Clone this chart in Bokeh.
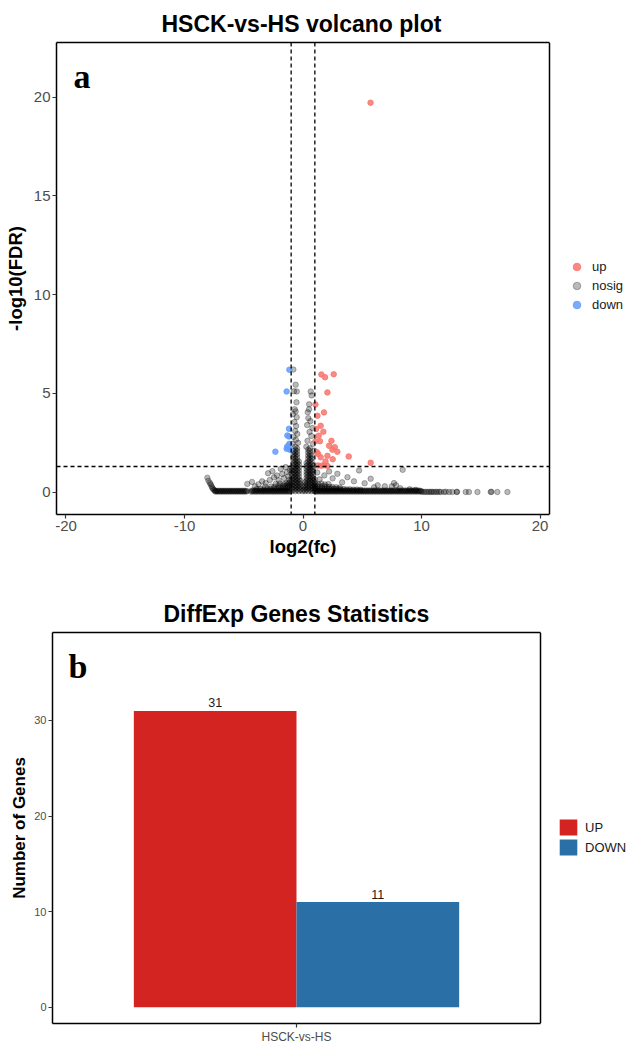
from bokeh.plotting import figure
from bokeh.models import (ColumnDataSource, Span, Label, Legend, LegendItem, Title,
                          FixedTicker, Range1d, LinearAxis)
from bokeh.transform import dodge
from bokeh.embed import file_html
from bokeh.resources import INLINE

# ---------------- volcano data (log2 fold change, -log10 FDR) ----------------
up_pts = [(5.70, 19.72), (1.55, 5.96), (1.86, 5.82), (2.59, 5.97), (2.06, 5.05),
          (1.05, 4.44), (1.77, 4.04), (1.22, 3.87), (1.49, 3.36), (1.72, 3.06),
          (1.32, 2.86), (2.40, 2.60), (1.05, 2.58), (1.43, 2.58), (2.68, 2.28),
          (2.48, 2.15), (2.90, 2.05), (1.27, 1.94), (2.06, 1.84), (2.51, 1.67),
          (3.86, 1.81), (1.49, 1.77), (5.71, 1.49), (1.27, 1.35), (1.55, 1.34),
          (1.77, 1.36), (2.06, 1.33), (1.16, 2.03), (1.10, 3.20), (2.20, 2.35),
          (1.90, 1.55)]
down_pts = [(-1.15, 6.20), (-1.38, 5.10), (-1.18, 3.21), (-1.32, 2.87), (-1.18, 2.82),
            (-1.15, 2.45), (-1.38, 2.20), (-1.23, 2.23), (-2.33, 2.05), (-1.32, 2.32),
            (-1.10, 2.15)]

nosig_left_tail = [(-8.07, 0.73), (-7.98, 0.58), (-7.86, 0.47), (-7.79, 0.40), (-7.72, 0.31),
                   (-7.66, 0.23), (-7.60, 0.17), (-7.52, 0.12), (-7.45, 0.08), (-7.40, 0.05)]
nosig_left_band = [(-7.35, 0.03), (-7.28, 0.07), (-7.20, 0.03), (-7.13, 0.07), (-7.05, 0.03), (-6.98, 0.07),
                   (-6.90, 0.03), (-6.83, 0.07), (-6.75, 0.03), (-6.68, 0.07), (-6.60, 0.03), (-6.53, 0.07),
                   (-6.45, 0.03), (-6.38, 0.07), (-6.30, 0.03), (-6.23, 0.07), (-6.15, 0.03), (-6.08, 0.07),
                   (-6.00, 0.03), (-5.93, 0.07), (-5.85, 0.03), (-5.78, 0.07), (-5.70, 0.03), (-5.63, 0.07),
                   (-5.55, 0.03), (-5.48, 0.07), (-5.40, 0.03), (-5.33, 0.07), (-5.25, 0.03), (-5.18, 0.07),
                   (-5.10, 0.03), (-5.03, 0.07), (-4.95, 0.03), (-4.88, 0.07), (-4.80, 0.03), (-4.73, 0.06)]
nosig_mid_left = [(-4.40, 0.03), (-4.33, 0.08), (-4.25, 0.03), (-4.18, 0.08), (-4.10, 0.03), (-4.03, 0.08),
                  (-3.95, 0.03), (-3.88, 0.08), (-3.80, 0.03), (-3.73, 0.08), (-3.65, 0.03), (-3.58, 0.08),
                  (-3.50, 0.03), (-3.43, 0.08), (-3.35, 0.03), (-3.28, 0.08), (-3.20, 0.03), (-3.13, 0.08),
                  (-3.05, 0.03), (-2.98, 0.08), (-2.90, 0.03), (-2.83, 0.08), (-2.75, 0.03), (-2.68, 0.08),
                  (-2.60, 0.03), (-2.53, 0.08), (-2.45, 0.03), (-2.38, 0.08), (-2.30, 0.03), (-2.23, 0.08),
                  (-2.15, 0.03), (-2.08, 0.08), (-2.00, 0.03), (-1.93, 0.08), (-1.85, 0.03), (-1.78, 0.08),
                  (-1.70, 0.03), (-1.63, 0.08), (-1.55, 0.03), (-1.48, 0.08), (-1.40, 0.03), (-1.33, 0.08),
                  (-1.25, 0.03), (-1.18, 0.08), (-1.10, 0.03),
                  (-3.90, 0.16), (-3.60, 0.17), (-3.30, 0.15), (-3.00, 0.18), (-2.75, 0.16), (-2.50, 0.19),
                  (-2.25, 0.17), (-2.05, 0.20), (-1.85, 0.18), (-1.65, 0.21), (-1.45, 0.19), (-1.30, 0.22),
                  (-1.15, 0.20), (-3.20, 0.28), (-2.70, 0.29), (-2.40, 0.27), (-2.10, 0.31), (-1.90, 0.29),
                  (-1.70, 0.33), (-1.50, 0.30), (-1.35, 0.34), (-1.20, 0.32), (-1.08, 0.36), (-2.30, 0.42),
                  (-1.95, 0.44), (-1.60, 0.41), (-1.40, 0.47), (-1.25, 0.45), (-1.12, 0.50),
                  (-4.70, 0.42), (-4.30, 0.52), (-4.05, 0.30), (-3.75, 0.40), (-3.45, 0.55), (-3.15, 0.46),
                  (-2.95, 0.96), (-2.80, 0.62), (-2.58, 1.06), (-2.45, 0.75), (-2.20, 0.85), (-2.05, 0.60),
                  (-1.88, 1.18), (-1.75, 0.92), (-1.60, 0.72), (-1.46, 1.27), (-1.35, 1.02), (-1.25, 0.80),
                  (-1.15, 0.62), (-1.10, 1.10)]
nosig_center_left = [(-0.95, 0.05), (-0.95, 0.20), (-0.95, 0.35), (-0.95, 0.50), (-0.95, 0.65), (-0.95, 0.80),
                     (-0.95, 0.95), (-0.95, 1.10), (-0.95, 1.25),
                     (-0.80, 0.12), (-0.80, 0.28), (-0.80, 0.42), (-0.80, 0.58), (-0.80, 0.72), (-0.80, 0.88),
                     (-0.80, 1.02), (-0.80, 1.18), (-0.80, 1.32), (-0.80, 1.48), (-0.80, 1.62), (-0.80, 1.78),
                     (-0.80, 1.92), (-0.80, 2.08),
                     (-0.65, 0.05), (-0.65, 0.20), (-0.65, 0.35), (-0.65, 0.50), (-0.65, 0.65), (-0.65, 0.80),
                     (-0.65, 0.95), (-0.65, 1.10), (-0.65, 1.25), (-0.65, 1.40), (-0.65, 1.55), (-0.65, 1.70),
                     (-0.65, 1.85), (-0.65, 2.00), (-0.65, 2.15), (-0.65, 2.30),
                     (-0.50, 0.12), (-0.50, 0.28), (-0.50, 0.42), (-0.50, 0.58), (-0.50, 0.72), (-0.50, 0.88),
                     (-0.50, 1.02), (-0.50, 1.18), (-0.50, 1.32), (-0.50, 1.48), (-0.50, 1.62), (-0.50, 1.78),
                     (-0.50, 1.92), (-0.50, 2.08), (-0.50, 2.22),
                     (-0.35, 0.05), (-0.35, 0.20), (-0.35, 0.35), (-0.35, 0.50), (-0.35, 0.65), (-0.35, 0.80),
                     (-0.35, 0.95), (-0.35, 1.10), (-0.35, 1.25), (-0.35, 1.40), (-0.35, 1.55),
                     (-0.22, 0.12), (-0.22, 0.28), (-0.22, 0.42), (-0.22, 0.58),
                     (-0.05, 0.05), (0.05, 0.12), (0.00, 0.30),
                     (-0.81, 6.21), (-0.62, 5.44), (-0.53, 5.10), (-0.76, 5.11), (-0.55, 4.55), (-0.70, 4.20),
                     (-0.62, 4.09), (-0.85, 3.95), (-0.53, 3.80), (-0.72, 3.55), (-0.58, 3.35), (-0.66, 3.10),
                     (-0.48, 2.95), (-0.80, 2.80), (-0.60, 2.65), (-0.42, 2.50), (-0.90, 2.45)]
nosig_center_right = [(0.18, 0.05), (0.18, 0.20), (0.18, 0.35), (0.18, 0.50),
                      (0.30, 0.12), (0.30, 0.28), (0.30, 0.42), (0.30, 0.58), (0.30, 0.72), (0.30, 0.88),
                      (0.30, 1.02), (0.30, 1.18), (0.30, 1.32), (0.30, 1.48),
                      (0.44, 0.05), (0.44, 0.20), (0.44, 0.35), (0.44, 0.50), (0.44, 0.65), (0.44, 0.80),
                      (0.44, 0.95), (0.44, 1.10), (0.44, 1.25), (0.44, 1.40), (0.44, 1.55), (0.44, 1.70),
                      (0.44, 1.85), (0.44, 2.00), (0.44, 2.15),
                      (0.58, 0.12), (0.58, 0.28), (0.58, 0.42), (0.58, 0.58), (0.58, 0.72), (0.58, 0.88),
                      (0.58, 1.02), (0.58, 1.18), (0.58, 1.32), (0.58, 1.48), (0.58, 1.62), (0.58, 1.78),
                      (0.58, 1.92), (0.58, 2.08), (0.58, 2.22),
                      (0.72, 0.05), (0.72, 0.20), (0.72, 0.35), (0.72, 0.50), (0.72, 0.65), (0.72, 0.80),
                      (0.72, 0.95), (0.72, 1.10), (0.72, 1.25), (0.72, 1.40), (0.72, 1.55), (0.72, 1.70),
                      (0.72, 1.85),
                      (0.86, 0.12), (0.86, 0.28), (0.86, 0.42), (0.86, 0.58), (0.86, 0.72), (0.86, 0.88),
                      (0.86, 1.02), (0.86, 1.18), (0.86, 1.32),
                      (0.98, 0.05), (0.98, 0.20), (0.98, 0.35), (0.98, 0.50), (0.98, 0.65),
                      (0.65, 5.10), (0.73, 4.90), (0.52, 4.45), (0.51, 4.20), (0.40, 4.05), (0.45, 3.75),
                      (0.62, 3.60), (0.35, 3.40), (0.80, 3.25), (0.55, 3.05), (0.70, 2.85), (0.38, 2.60),
                      (0.85, 2.45), (0.28, 2.30), (0.95, 2.10)]
nosig_right_band = [(1.05, 0.03), (1.13, 0.08), (1.20, 0.03), (1.28, 0.08), (1.35, 0.03), (1.43, 0.08),
                    (1.50, 0.03), (1.58, 0.08), (1.65, 0.03), (1.73, 0.08), (1.80, 0.03), (1.88, 0.08),
                    (1.95, 0.03), (2.03, 0.08), (2.10, 0.03), (2.18, 0.08), (2.25, 0.03), (2.33, 0.08),
                    (2.40, 0.03), (2.48, 0.08), (2.55, 0.03), (2.63, 0.08), (2.70, 0.03), (2.78, 0.08),
                    (2.85, 0.03), (2.93, 0.08), (3.00, 0.03), (3.08, 0.08), (3.15, 0.03), (3.23, 0.08),
                    (3.30, 0.03), (3.38, 0.08), (3.45, 0.03), (3.53, 0.08), (3.60, 0.03), (3.68, 0.08),
                    (3.75, 0.03), (3.83, 0.08), (3.90, 0.03), (3.98, 0.08), (4.05, 0.03), (4.13, 0.08),
                    (4.20, 0.03), (4.28, 0.08), (4.35, 0.03), (4.43, 0.08), (4.50, 0.03), (4.58, 0.08),
                    (4.65, 0.03), (4.73, 0.08), (4.80, 0.03), (4.88, 0.08), (4.95, 0.03), (5.03, 0.08),
                    (5.10, 0.03), (5.18, 0.08), (5.25, 0.03), (5.33, 0.08), (5.40, 0.03), (5.48, 0.08),
                    (5.55, 0.03), (5.63, 0.08), (5.70, 0.03), (5.78, 0.08), (5.85, 0.03), (5.93, 0.08),
                    (6.00, 0.03), (6.08, 0.08), (6.15, 0.03), (6.23, 0.08), (6.30, 0.03), (6.38, 0.08),
                    (6.45, 0.03), (6.53, 0.08), (6.60, 0.03), (6.68, 0.08), (6.75, 0.03), (6.83, 0.08),
                    (6.90, 0.03), (6.98, 0.08), (7.05, 0.03), (7.13, 0.08), (7.20, 0.03), (7.28, 0.08),
                    (7.35, 0.03), (7.43, 0.08), (7.50, 0.03), (7.58, 0.08), (7.65, 0.03), (7.73, 0.08),
                    (7.80, 0.03), (7.88, 0.08), (7.95, 0.03), (8.03, 0.08), (8.10, 0.03), (8.18, 0.08),
                    (8.25, 0.03), (8.33, 0.08), (8.40, 0.03), (8.48, 0.08), (8.55, 0.03), (8.63, 0.08),
                    (8.70, 0.03), (8.78, 0.08), (8.85, 0.03), (8.93, 0.08), (9.00, 0.03), (9.08, 0.08),
                    (9.15, 0.03), (9.23, 0.08), (9.30, 0.03), (9.38, 0.08), (9.45, 0.03), (9.53, 0.08),
                    (9.60, 0.03), (9.68, 0.08), (9.75, 0.03), (9.83, 0.08), (9.90, 0.03), (9.97, 0.06),
                    (1.00, 0.17), (1.20, 0.18), (1.40, 0.16), (1.60, 0.19), (1.80, 0.17), (2.00, 0.18),
                    (2.20, 0.16), (2.40, 0.17), (2.60, 0.18), (2.80, 0.16), (3.00, 0.17), (3.20, 0.15),
                    (3.45, 0.16), (3.70, 0.14), (3.95, 0.15), (4.25, 0.13), (4.55, 0.14), (4.85, 0.12),
                    (1.02, 0.29), (1.22, 0.30), (1.42, 0.28), (1.62, 0.31), (1.82, 0.29), (2.02, 0.28),
                    (2.25, 0.27), (2.50, 0.26), (2.80, 0.25), (3.10, 0.24),
                    (1.05, 0.42), (1.30, 0.40), (1.55, 0.44), (1.85, 0.39), (2.15, 0.41),
                    (1.20, 1.00), (1.40, 0.65), (1.80, 0.85), (2.20, 1.05), (2.50, 0.70), (2.90, 0.93),
                    (3.30, 0.50), (3.75, 0.76), (4.30, 0.55), (4.73, 1.10), (5.20, 0.45), (5.71, 0.68),
                    (6.00, 0.25), (6.30, 0.35), (6.90, 0.30), (7.50, 0.30), (7.68, 0.46), (7.85, 0.35),
                    (8.20, 0.20), (8.41, 1.13), (9.00, 0.15), (9.50, 0.12)]
nosig_right_tail = [(10.05, 0.02), (10.21, 0.01), (10.35, 0.02), (10.50, 0.01), (10.65, 0.02), (10.78, 0.01),
                    (10.90, 0.02), (11.05, 0.01), (11.20, 0.02), (11.34, 0.01), (11.50, 0.02), (11.62, 0.01),
                    (11.90, 0.01), (12.05, 0.02), (12.32, 0.01), (12.60, 0.01), (12.97, 0.01), (13.00, 0.02),
                    (13.73, 0.01), (14.00, 0.01), (14.72, 0.01), (15.84, 0.01), (15.90, 0.02), (16.40, 0.01),
                    (17.25, 0.01)]

fc_cut = 1.0      # |log2 fold change| threshold
fdr_line = 1.3    # -log10(0.05)

volcano_labels = ["up", "nosig", "down"]
volcano_colors = ["#F8766D", "#000000", "#619CFF"]
volcano_alpha = [0.85, 0.27, 0.85]
volcano_xticks = [-20, -10, 0, 10, 20]
volcano_yticks = [0, 5, 10, 15, 20]

# ---------------- bar chart data ----------------
comparisons = ["HSCK-vs-HS"]
comparison_pos = [1]
deg_types = ["UP", "DOWN"]
deg_counts = [31, 11]
deg_colors = ["#D42421", "#2A70A6"]
bar_yticks = [0, 10, 20, 30]

FONT = "Liberation Sans"


def style_axis(ax, tick_size, label_size):
    ax.axis_line_color = "black"
    ax.axis_line_width = 1.5
    ax.major_tick_line_color = "#333333"
    ax.major_tick_line_width = 1.2
    ax.major_tick_out = 4
    ax.major_tick_in = 0
    ax.minor_tick_line_color = None
    ax.major_label_text_font = FONT
    ax.major_label_text_font_size = tick_size
    ax.major_label_text_color = "#4D4D4D"
    ax.major_label_standoff = 2
    ax.axis_label_text_font = FONT
    ax.axis_label_text_font_size = label_size
    ax.axis_label_text_font_style = "bold"
    ax.axis_label_text_color = "black"


def panel_box(p, x_lo, x_hi):
    """Panel border that stops at x_hi, leaving room for the legend on the right."""
    p.outline_line_color = None
    p.xaxis[0].bounds = (x_lo, x_hi)
    top = LinearAxis(bounds=(x_lo, x_hi), ticker=FixedTicker(ticks=[]),
                     axis_line_color="black", axis_line_width=1.5,
                     major_tick_line_color=None, minor_tick_line_color=None,
                     major_label_text_font_size="0px")
    p.add_layout(top, "above")
    p.add_layout(Span(location=x_hi, dimension="height", line_color="black", line_width=1.5))


def style_title(t, size):
    t.text_font = FONT
    t.text_font_size = size
    t.text_font_style = "bold"
    t.text_color = "black"


# ================= volcano plot =================
X_LO, X_HI = -20.8, 20.8
Y_LO, Y_HI = -1.13, 22.77
PANEL_W1, RIGHT_W1 = 493, 80
x_end1 = X_HI + RIGHT_W1 * (X_HI - X_LO) / PANEL_W1

p1 = figure(width=629, height=580, output_backend="svg", toolbar_location=None,
            x_range=Range1d(X_LO, x_end1), y_range=Range1d(Y_LO, Y_HI),
            min_border_left=56, min_border_right=0, min_border_top=42, min_border_bottom=66,
            background_fill_color="white", border_fill_color="white")
style_axis(p1.xaxis[0], "15px", "18.5px")
style_axis(p1.yaxis[0], "15px", "18.5px")
p1.xgrid.visible = False
p1.ygrid.visible = False
p1.xaxis.ticker = FixedTicker(ticks=volcano_xticks)
p1.yaxis.ticker = FixedTicker(ticks=volcano_yticks)
p1.xaxis.major_label_overrides = {t: str(t) for t in volcano_xticks}
p1.yaxis.axis_label = "-log10(FDR)"
p1.yaxis.axis_label_standoff = 5
panel_box(p1, X_LO, X_HI)

t1 = Title(text="HSCK-vs-HS volcano plot", align="left", offset=105, standoff=12)
style_title(t1, "23px")
p1.add_layout(t1, "above")
xl1 = Title(text="log2(fc)", align="left", offset=213, standoff=0)
style_title(xl1, "18.5px")
p1.add_layout(xl1, "below")

nosig_pts = (nosig_left_tail + nosig_left_band + nosig_mid_left + nosig_center_left
             + nosig_center_right + nosig_right_band + nosig_right_tail)
groups = {"up": up_pts, "nosig": nosig_pts, "down": down_pts}
renderers = {}
for lab, col, alp in zip(["nosig", "up", "down"],
                         [volcano_colors[1], volcano_colors[0], volcano_colors[2]],
                         [volcano_alpha[1], volcano_alpha[0], volcano_alpha[2]]):
    pts = groups[lab]
    src = ColumnDataSource(data=dict(x=[a for a, b in pts], y=[b for a, b in pts]))
    renderers[lab] = p1.scatter("x", "y", source=src, size=5.5, marker="circle",
                                fill_color=col, fill_alpha=alp,
                                line_color=col, line_alpha=alp, line_width=1)

for xv in (-fc_cut, fc_cut):
    p1.add_layout(Span(location=xv, dimension="height", line_color="black",
                       line_dash="4 3", line_width=1.3))
p1.segment(x0=[X_LO], x1=[X_HI], y0=[fdr_line], y1=[fdr_line], line_color="black",
           line_dash="4 3", line_width=1.3)

p1.add_layout(Label(x=17, y=438, x_units="screen", y_units="screen", text="a",
                    text_font="Liberation Serif", text_font_style="bold",
                    text_font_size="34px", text_baseline="alphabetic", text_color="black"))

leg1 = Legend(items=[LegendItem(label=l, renderers=[renderers[l]]) for l in volcano_labels],
              location=(511, 200), glyph_width=19, glyph_height=19, spacing=0,
              label_standoff=6, padding=0, margin=0, border_line_color=None,
              background_fill_alpha=0, label_text_font=FONT, label_text_font_size="13px",
              label_text_color="#1A1A1A")
p1.add_layout(leg1)

# ================= bar chart =================
B_LO, B_HI = 0.4, 1.6
C_LO, C_HI = -1.7, 39.2
PANEL_W2, RIGHT_W2 = 488, 89
x_end2 = B_HI + RIGHT_W2 * (B_HI - B_LO) / PANEL_W2

p2 = figure(width=629, height=466, output_backend="svg", toolbar_location=None,
            x_range=Range1d(B_LO, x_end2), y_range=Range1d(C_LO, C_HI),
            min_border_left=52, min_border_right=0, min_border_top=52, min_border_bottom=20,
            background_fill_color="white", border_fill_color="white")
style_axis(p2.xaxis[0], "12px", "17px")
style_axis(p2.yaxis[0], "11px", "17px")
p2.xgrid.visible = False
p2.ygrid.visible = False
p2.yaxis.ticker = FixedTicker(ticks=bar_yticks)
p2.xaxis.ticker = FixedTicker(ticks=comparison_pos)
p2.xaxis.major_label_overrides = {pos: name for pos, name in zip(comparison_pos, comparisons)}
p2.yaxis.axis_label = "Number of Genes"
p2.yaxis.axis_label_standoff = 2
panel_box(p2, B_LO, B_HI)

t2 = Title(text="DiffExp Genes Statistics", align="left", offset=111, standoff=12)
style_title(t2, "23px")
p2.add_layout(t2, "above")

offsets = [-0.2, 0.2]
bar_renderers = []
for t, c, col, off in zip(deg_types, deg_counts, deg_colors, offsets):
    src = ColumnDataSource(data=dict(pos=comparison_pos, count=[c], lab=[str(c)]))
    r = p2.vbar(x=dodge("pos", off), top="count", bottom=0, width=0.4,
                source=src, fill_color=col, line_color=None)
    bar_renderers.append(r)
    p2.text(x=dodge("pos", off), y="count", text="lab", source=src,
            text_align="center", text_baseline="alphabetic", y_offset=-8,
            text_font_size="12.5px", text_color="#1A1A1A", text_font={"value": FONT})

p2.add_layout(Label(x=16, y=357, x_units="screen", y_units="screen", text="b",
                    text_font="Liberation Serif", text_font_style="bold",
                    text_font_size="34px", text_baseline="alphabetic", text_color="black"))

leg2 = Legend(items=[LegendItem(label=t, renderers=[r]) for t, r in zip(deg_types, bar_renderers)],
              location=(505, 166), glyph_width=22, glyph_height=20, spacing=0,
              label_standoff=6, padding=0, margin=0, border_line_color=None,
              background_fill_alpha=0, label_text_font=FONT, label_text_font_size="13px",
              label_text_color="#1A1A1A")
p2.add_layout(leg2)

open("out.html", "w").write(file_html([p1, p2], INLINE))
